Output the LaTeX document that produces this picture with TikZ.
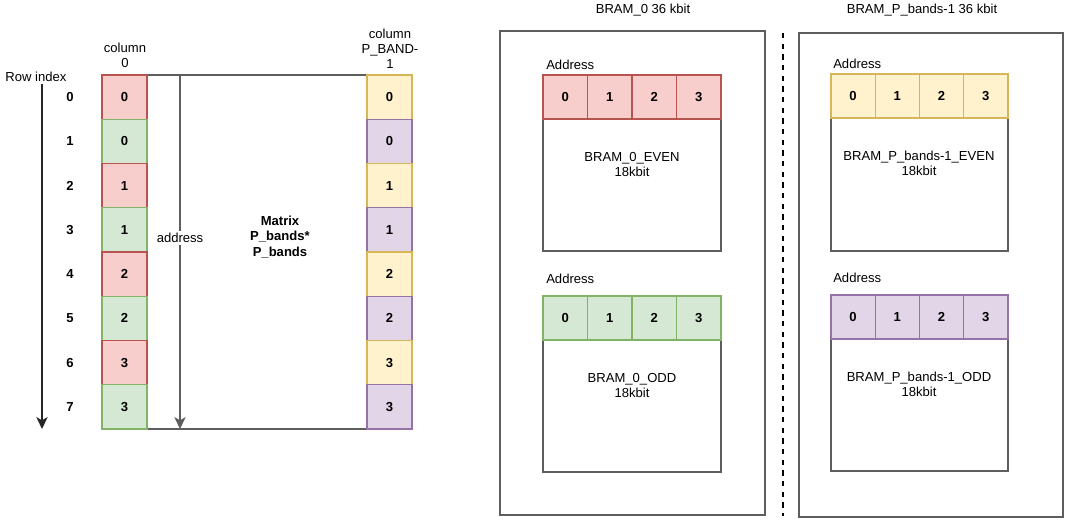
\documentclass[tikz,border=0pt]{standalone}
\usepackage{fontspec}
\setmainfont{Liberation Sans}
\usetikzlibrary{arrows.meta}
\definecolor{redF}{HTML}{F8CECC}\definecolor{redS}{HTML}{B85450}
\definecolor{greenF}{HTML}{D5E8D4}\definecolor{greenS}{HTML}{82B366}
\definecolor{yelF}{HTML}{FFF2CC}\definecolor{yelS}{HTML}{D6B656}
\definecolor{purF}{HTML}{E1D5E7}\definecolor{purS}{HTML}{9673A6}
\definecolor{lineg}{HTML}{5E5E5E}
\begin{document}
\begin{tikzpicture}[x=0.75pt,y=-0.75pt,
  font=\fontsize{9.8}{11.25}\selectfont,
  cell/.style={draw, line width=0.9pt, inner sep=0pt, minimum width=33.75pt, minimum height=33.19pt, font=\fontsize{9.8}{11.25}\selectfont\bfseries},
  rc/.style={cell, fill=redF, draw=redS},
  gc/.style={cell, fill=greenF, draw=greenS},
  yc/.style={cell, fill=yelF, draw=yelS},
  pc/.style={cell, fill=purF, draw=purS},
  bcell/.style={minimum width=33.3pt, minimum height=33pt},
  box/.style={draw=lineg, line width=1pt, inner sep=0pt},
  txt/.style={align=center, inner sep=0pt},
  boldtxt/.style={txt, font=\fontsize{9.8}{11.6}\selectfont\bfseries},
  arr/.style={line width=1pt, -{Stealth[length=9pt,width=8.5pt,inset=2.5pt]}}]
\useasboundingbox (0,0) rectangle (1066,519);

% ---------- left part ----------
\node[box, minimum width=165.75pt, minimum height=265.5pt] (mat) at (257.5,252) {};
\foreach \i/\v in {0/0,1/0,2/1,3/1,4/2,5/2,6/3,7/3}{
  \pgfmathsetmacro\yc{75+44.25*\i+22.125}
  \ifodd\i
    \node[gc] (L\i) at (124.5,\yc) {\v};
    \node[pc] (R\i) at (389.5,\yc) {\v};
  \else
    \node[rc] (L\i) at (124.5,\yc) {\v};
    \node[yc] (R\i) at (389.5,\yc) {\v};
  \fi
  \node[boldtxt] (r\i) at (70,\yc) {\i};
}
\node[txt] (rowidx) at (36,77) {Row index};
\node[txt] (c0) at (125,55) {column\\0};
\node[txt] (c1) at (390,49) {column\\P\_BAND-\\1};
\node[boldtxt] (mtext) at (280,237) {Matrix\\P\_bands*\\P\_bands};

\coordinate (rtop) at (42,84);
\coordinate (rbot) at (42,429);
\draw[arr, draw=black!85] (rtop) -- (rbot);

\coordinate (atop) at (180,75);
\coordinate (abot) at (180,429);
\draw[arr, draw=lineg] (atop) -- (abot) node[pos=0.46, fill=white, inner sep=1.5pt] (addr) {address};

% ---------- right part ----------
\node[txt] (t0) at (643,10) {BRAM\_0 36 kbit};
\node[txt] (t1) at (922,10) {BRAM\_P\_bands-1 36 kbit};

\node[box, minimum width=198.75pt, minimum height=363pt] (bram0) at (632.5,273) {};
\node[box, minimum width=198pt, minimum height=363pt] (bramP) at (931,275) {};

\coordinate (d1) at (783,33);
\coordinate (d2) at (783,516);
\draw[black, line width=1.5pt, dash pattern=on 4pt off 4pt] (d1) -- (d2);

% BRAM_0 even
\node[box, minimum width=133.5pt, minimum height=99pt] (b0e) at (632,185) {};
\foreach \j in {0,1,2,3}{
  \node[rc, bcell] (b0e\j) at ({565.25+44.5*\j},97) {\j};
}
\node[txt, anchor=west] (a0e) at (546,65) {Address};
\node[txt] (n0e) at (632,164) {BRAM\_0\_EVEN\\18kbit};

% BRAM_0 odd
\node[box, minimum width=133.5pt, minimum height=99pt] (b0o) at (632,406) {};
\foreach \j in {0,1,2,3}{
  \node[gc, bcell] (b0o\j) at ({565.25+44.5*\j},318) {\j};
}
\node[txt, anchor=west] (a0o) at (546,279) {Address};
\node[txt] (n0o) at (632,385) {BRAM\_0\_ODD\\18kbit};

% BRAM_P even
\node[box, minimum width=132.75pt, minimum height=99.75pt] (bpe) at (919.5,184.5) {};
\foreach \j in {0,1,2,3}{
  \node[yc, bcell] (bpe\j) at ({853.1+44.25*\j},96) {\j};
}
\node[txt, anchor=west] (ape) at (833,64) {Address};
\node[txt] (npe) at (919,163) {BRAM\_P\_bands-1\_EVEN\\18kbit};

% BRAM_P odd
\node[box, minimum width=132.75pt, minimum height=99pt] (bpo) at (919.5,405) {};
\foreach \j in {0,1,2,3}{
  \node[pc, bcell] (bpo\j) at ({853.1+44.25*\j},317) {\j};
}
\node[txt, anchor=west] (apo) at (833,278) {Address};
\node[txt] (npo) at (919,384) {BRAM\_P\_bands-1\_ODD\\18kbit};
\end{tikzpicture}
\end{document}
